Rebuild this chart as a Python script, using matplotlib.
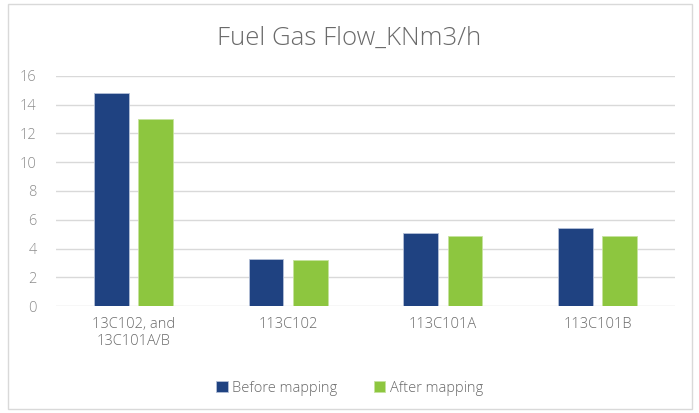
import matplotlib
matplotlib.use('Agg')
import matplotlib.pyplot as plt
import numpy as np
from matplotlib.patches import Rectangle

plt.rcParams['font.family'] = ['Open Sans', 'DejaVu Sans']

categories = ['13C102, and\n13C101A/B', '113C102', '113C101A', '113C101B']
before = [14.8, 3.25, 5.1, 5.4]
after = [13.0, 3.2, 4.9, 4.9]
series_names = ['Before mapping', 'After mapping']

blue = '#1f4281'
green = '#8dc63f'
grid_c = '#d9d9d9'
text_c = '#6a6a6a'

fig = plt.figure(figsize=(6.99, 4.13), dpi=100)
ax = fig.add_axes([56 / 699, 1 - 306 / 413, (675 - 56) / 699, (306 - 76) / 413])

x = np.arange(len(categories))
w = 0.225
off = w / 2 + 0.03
ax.bar(x - off, before, w, color=blue, edgecolor='#b4c0d8', linewidth=0.6,
       label=series_names[0], zorder=3)
ax.bar(x + off, after, w, color=green, edgecolor='#c6e29e', linewidth=0.6,
       label=series_names[1], zorder=3)

ax.set_xlim(-0.5, len(categories) - 0.5)
ax.set_ylim(0, 16)
ax.set_yticks(np.arange(0, 17, 2))
ax.set_xticks(x)
ax.set_xticklabels(categories)
ax.yaxis.grid(True, color=grid_c, linewidth=1, zorder=0)
for s in ax.spines.values():
    s.set_visible(False)
ax.tick_params(length=0, colors='#8c8c8c', labelsize=10.5)
ax.tick_params(axis='y', pad=14)
ax.tick_params(axis='x', pad=8)
for lbl in ax.get_yticklabels() + ax.get_xticklabels():
    lbl.set_fontweight('light')
for lbl in ax.get_xticklabels():
    lbl.set_color(text_c)

fig.text(0.5, 1 - 38 / 413, 'Fuel Gas Flow_KNm3/h', ha='center', va='center',
         fontsize=18.5, color=text_c, fontweight='light')

leg = fig.legend(loc='center', bbox_to_anchor=(0.5, 1 - 388 / 413), ncol=2,
                 frameon=False, prop={'size': 10.5, 'weight': 'light'},
                 handlelength=0.8, handleheight=0.8,
                 columnspacing=2.5, handletextpad=0.3)
for t in leg.get_texts():
    t.set_color(text_c)

fig.patches.append(Rectangle((8 / 699, 4 / 413), 684 / 699, 405 / 413,
                             transform=fig.transFigure, fill=False,
                             edgecolor='#d9d9d9', linewidth=1))

fig.savefig('out.png', dpi=100)
